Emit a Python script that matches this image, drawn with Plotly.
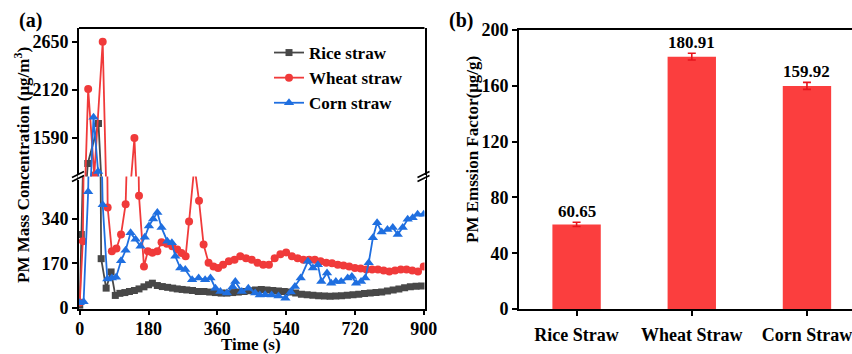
import plotly.graph_objects as go

# ---------------- data: panel (a) ----------------
rice_t = [0, 4, 21, 49, 56, 69, 82, 93, 105, 118, 130, 143, 155, 168, 180, 190, 203, 216, 230, 243,
          255, 268, 280, 295, 310, 325, 340, 355, 370, 385, 400, 415, 430, 445, 460, 475, 490, 505,
          520, 535, 550, 565, 580, 595, 610, 625, 640, 655, 670, 685, 700, 715, 730, 745, 760, 775,
          790, 805, 820, 835, 850, 865, 880, 895]
rice_v = [10, 281, 1310, 1750, 188, 75, 137, 47, 55, 58, 62, 66, 72, 80, 88, 94, 85, 81, 78, 75,
          72, 70, 68, 66, 62, 62, 60, 58, 56, 56, 58, 60, 62, 65, 68, 70, 68, 66,
          64, 62, 60, 56, 52, 50, 48, 46, 45, 44, 45, 46, 48, 50, 52, 54, 56, 58,
          60, 64, 68, 72, 76, 80, 82, 83]

wheat_t = [0, 8, 22, 38, 60, 73, 84, 96, 108, 120, 143, 155, 168, 178, 190, 203, 214, 228, 242, 255,
           266, 277, 286, 300, 312, 324, 337, 350, 362, 375, 390, 405, 420, 435, 450, 465, 480, 495,
           510, 525, 540, 555, 570, 585, 600, 615, 630, 645, 660, 675, 690, 705, 720, 735, 750, 765,
           780, 795, 810, 825, 840, 855, 870, 885, 900]
wheat_v = [20, 255, 2130, 1180, 2650, 384, 216, 227, 281, 397, 1590, 429, 158, 216, 211, 216, 251, 245, 236, 223,
           210, 197, 330, 545, 410, 242, 172, 158, 152, 165, 178, 184, 197, 190, 184, 172, 165, 165,
           190, 205, 212, 197, 190, 184, 184, 184, 178, 172, 170, 165, 162, 158, 152, 150, 146, 146,
           146, 143, 139, 143, 146, 146, 143, 139, 158]

corn_t = [0, 10, 22, 36, 48, 60, 72, 84, 95, 108, 120, 133, 146, 159, 170, 181, 192, 203, 214, 229,
          241, 250, 263, 276, 294, 311, 328, 342, 355, 368, 385, 400, 407, 424, 441, 459, 471, 485,
          502, 520, 538, 552, 563, 578, 597, 610, 623, 632, 647, 658, 670, 684, 701, 712, 723, 736,
          747, 756, 767, 778, 790, 805, 819, 832, 845, 858, 871, 884, 900]
corn_v = [19, 23, 445, 1820, 1220, 395, 110, 114, 117, 180, 220, 287, 262, 236, 270, 313, 340, 365, 307, 255,
          249, 197, 152, 146, 107, 114, 107, 114, 75, 62, 56, 80, 100, 62, 75, 56, 49, 50,
          49, 45, 36, 60, 81, 114, 178, 152, 165, 100, 133, 94, 100, 100, 114, 120, 94, 100,
          114, 172, 268, 326, 290, 300, 307, 281, 307, 339, 345, 358, 358]

x_ticks_a = [0, 180, 360, 540, 720, 900]
y_ticks_low = [0, 170, 340]
y_ticks_high = [1590, 2120, 2650]

# ---------------- data: panel (b) ----------------
categories = ["Rice Straw", "Wheat Straw", "Corn Straw"]
ef_values = [60.65, 180.91, 159.92]
ef_errors = [1.5, 2.4, 2.5]
ef_labels = ["60.65", "180.91", "159.92"]
y_ticks_b = [0, 40, 80, 120, 160, 200]

# ---------------- layout helpers ----------------
W, H = 852, 354
ML, MR, MT, MB = 79, 0, 28, 45
PW, PH = W - ML - MR, H - MT - MB


def px2x(px):
    return (px - ML) / PW


def py2y(py):
    return (H - MB - py) / PH


FONT = "Liberation Serif"
tick_font = dict(family=FONT, size=18, color="black", weight="bold")

GREY = "#484848"
RED = "#f03a3a"
BLUE = "#1f6fe0"
BAR = "#fb3e3e"

series = [
    ("Rice straw", rice_t, rice_v, GREY, "square", 7),
    ("Wheat straw", wheat_t, wheat_v, RED, "circle", 8),
    ("Corn straw", corn_t, corn_v, BLUE, "triangle-up", 9),
]

fig = go.Figure()
for name, t, v, col, sym, sz in series:
    for ya, show in (("y", True), ("y3", False)):
        fig.add_trace(go.Scatter(
            x=t, y=v, name=name, mode="lines+markers", xaxis="x", yaxis=ya,
            line=dict(color=col, width=1.8),
            marker=dict(color=col, symbol=sym, size=sz),
            showlegend=show, legendgroup=name, cliponaxis=True,
        ))

fig.add_trace(go.Bar(
    x=categories, y=ef_values, xaxis="x2", yaxis="y2", width=0.42,
    marker=dict(color=BAR, line=dict(width=0)),
    error_y=dict(type="data", array=ef_errors, color="#e8141c", thickness=1.6, width=4),
    showlegend=False,
))

break_py = 176.5
ax_line = dict(showline=True, linecolor="black", linewidth=2)

fig.update_layout(
    width=W, height=H, margin=dict(l=ML, r=MR, t=MT, b=MB, autoexpand=False),
    paper_bgcolor="white", plot_bgcolor="white",
    font=dict(family=FONT, color="black"),
    xaxis=dict(domain=[0, px2x(424.5)], range=[-2, 902], anchor="y", automargin=False,
               tickvals=x_ticks_a, ticks="outside", ticklen=4, tickwidth=2, tickcolor="black",
               ticklabelstandoff=-2,
               tickfont=tick_font, showgrid=False, zeroline=False, mirror=False, **ax_line),
    yaxis=dict(domain=[0, py2y(break_py)], range=[-5, 503], anchor="x", automargin=False,
               tickvals=y_ticks_low, ticks="outside", ticklen=5, tickwidth=2, tickcolor="black",
               tickfont=tick_font, showgrid=False, zeroline=False, mirror=True, **ax_line),
    yaxis3=dict(domain=[py2y(break_py), 1], range=[1166, 2802], anchor="x", automargin=False,
                tickvals=y_ticks_high, ticks="outside", ticklen=5, tickwidth=2, tickcolor="black",
                tickfont=tick_font, showgrid=False, zeroline=False, mirror=True, **ax_line),
    xaxis2=dict(domain=[px2x(519), 1], range=[-0.5, 2.391], anchor="y2", automargin=False,
                ticks="outside", ticklen=5, tickwidth=2, tickcolor="black",
                tickfont=dict(family=FONT, size=18, color="black", weight="bold"),
                ticklabelstandoff=3,
                showgrid=False, zeroline=False, mirror=True, **ax_line),
    yaxis2=dict(domain=[0, py2y(30)], range=[0, 200], anchor="x2", automargin=False,
                tickvals=y_ticks_b, ticks="outside", ticklen=5, tickwidth=2, tickcolor="black",
                tickfont=tick_font, showgrid=False, zeroline=False, mirror=False, **ax_line),
    legend=dict(x=px2x(269), y=py2y(35), xanchor="left", yanchor="top",
                bgcolor="rgba(0,0,0,0)", tracegroupgap=0,
                font=dict(family=FONT, size=17, color="black", weight="bold")),
    bargap=0.5,
)

# top border of panel (a)
fig.add_shape(type="line", xref="paper", yref="paper", x0=0, x1=px2x(424.5), y0=1, y1=1,
              line=dict(color="black", width=2))

# axis break marks
for bx in (79, 424.5):
    fig.add_shape(type="rect", xref="paper", yref="paper",
                  x0=px2x(bx - 1.5), x1=px2x(bx + 1.5), y0=py2y(180), y1=py2y(175),
                  fillcolor="white", line=dict(width=0), layer="above")
    for dy in (-2, 2):
        fig.add_shape(type="line", xref="paper", yref="paper",
                      x0=px2x(bx - 7), y0=py2y(break_py + 3 + dy),
                      x1=px2x(bx + 5), y1=py2y(break_py - 3 + dy),
                      line=dict(color="black", width=1.6), layer="above")

# value labels above bars
for c, v, e, lab in zip(categories, ef_values, ef_errors, ef_labels):
    fig.add_annotation(x=c, y=v + e, xref="x2", yref="y2", text=f"<b>{lab}</b>",
                       showarrow=False, xanchor="center", yanchor="bottom", yshift=-1,
                       font=dict(family=FONT, size=17, color="black"))


def paper_text(px, py, text, size=17, angle=0):
    fig.add_annotation(x=px2x(px), y=py2y(py), xref="paper", yref="paper",
                       xanchor="center", yanchor="middle", text=text, textangle=angle,
                       showarrow=False, font=dict(family=FONT, size=size, color="black"))


paper_text(22, 165, "<b>PM Mass Concentration (μg/m<sup>3</sup>)</b>", angle=-90)
paper_text(472, 150, "<b>PM Emssion Factor(μg/g)</b>", angle=-90)
paper_text(251, 344, "<b>Time (s)</b>")
paper_text(30, 20, "<b>(a)</b>", size=20)
paper_text(461, 20, "<b>(b)</b>", size=20)

fig.write_html("out.html")
